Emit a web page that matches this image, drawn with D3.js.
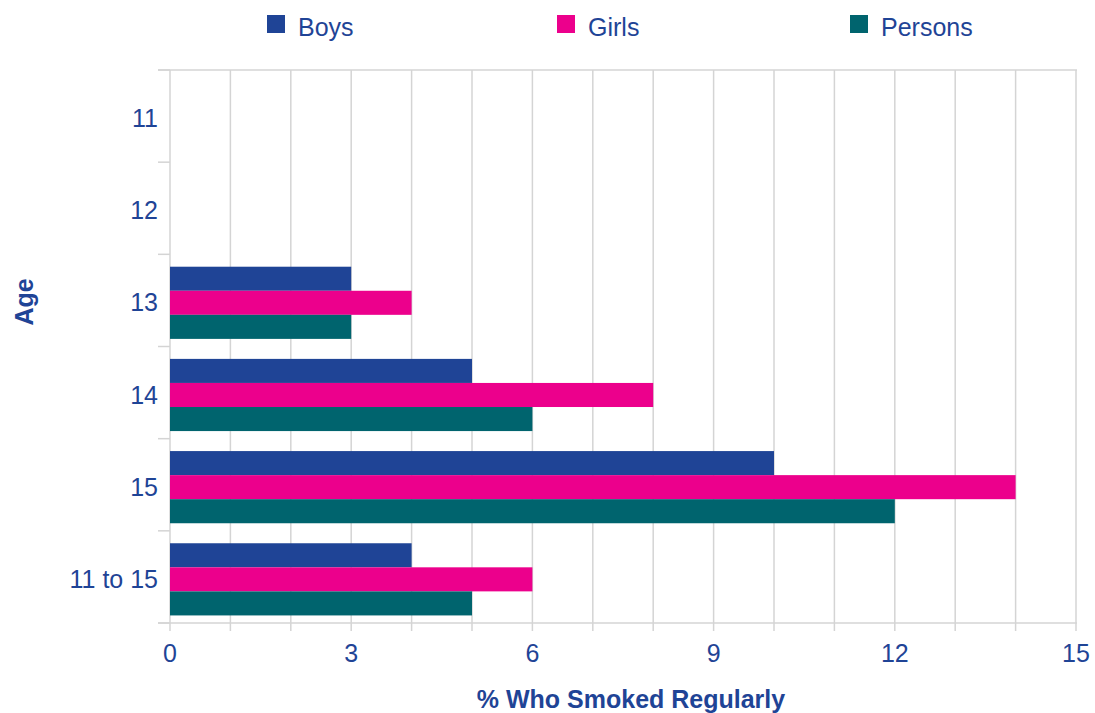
<!DOCTYPE html>
<html><head><meta charset="utf-8">
<script src="https://cdn.jsdelivr.net/npm/d3@7"></script>
<style>body{margin:0;background:#fff}svg{display:block;font-family:"Liberation Sans",Arial,sans-serif}</style>
</head><body><svg id="c" width="1095" height="713"></svg>
<script>
const categories = ["11","12","13","14","15","11 to 15"];
const seriesNames = ["Boys","Girls","Persons"];
const boys = [0,0,3,5,10,4];
const girls = [0,0,4,8,14,6];
const persons = [0,0,3,6,12,5];
const xTicks = [0,3,6,9,12,15];
const colors = ["#1F4496","#EC008C","#00646E"];
const textColor = "#1F4496";

const svg = d3.select("#c");
const m = {l:170, r:1076, t:70, b:623};
const x = d3.scaleLinear().domain([0,15]).range([m.l,m.r]);
const y = d3.scaleBand().domain(categories).range([m.t,m.b]).paddingInner(0.217).paddingOuter(0.108).align(0.62);
const yb = d3.scaleBand().domain(categories).range([m.t,m.b]);
const ys = d3.scaleBand().domain(seriesNames).range([0,y.bandwidth()]);

const grid = d3.range(0,16);
svg.append("g").selectAll("line").data(grid).join("line")
  .attr("x1",d=>x(d)).attr("x2",d=>x(d)).attr("y1",m.t).attr("y2",m.b+8)
  .attr("stroke","#d4d4d4").attr("stroke-width",1.5);
svg.append("line").attr("x1",158).attr("x2",m.r+1).attr("y1",m.t).attr("y2",m.t).attr("stroke","#d4d4d4").attr("stroke-width",1.5);
svg.append("line").attr("x1",158).attr("x2",m.r+1).attr("y1",m.b).attr("y2",m.b).attr("stroke","#d4d4d4").attr("stroke-width",1.5);
const bounds = categories.map(c=>yb(c)).concat([m.b]);
svg.append("g").selectAll("line").data(bounds).join("line")
  .attr("x1",158).attr("x2",m.l).attr("y1",d=>d).attr("y2",d=>d)
  .attr("stroke","#d4d4d4").attr("stroke-width",1.5);

const data = [boys,girls,persons];
seriesNames.forEach((s,i)=>{
  svg.append("g").selectAll("rect").data(categories.map((c,j)=>({c,v:data[i][j]})).filter(d=>d.v>0))
    .join("rect")
    .attr("x",x(0)).attr("y",d=>y(d.c)+ys(s)).attr("height",ys.bandwidth())
    .attr("width",d=>x(d.v)-x(0)).attr("fill",colors[i]);
});

svg.append("g").selectAll("text").data(categories).join("text")
  .attr("x",158).attr("y",d=>yb(d)+yb.bandwidth()/2+11)
  .attr("text-anchor","end").attr("font-size",25).attr("fill",textColor).text(d=>d);
svg.append("g").selectAll("text").data(xTicks).join("text")
  .attr("x",d=>x(d)).attr("y",662).attr("text-anchor","middle")
  .attr("font-size",25).attr("fill",textColor).text(d=>d);

svg.append("text").attr("x",631).attr("y",708).attr("text-anchor","middle")
  .attr("font-size",25).attr("font-weight","bold").attr("fill",textColor).text("% Who Smoked Regularly");
svg.append("text").attr("transform","translate(33,302) rotate(-90)")
  .attr("text-anchor","middle").attr("font-size",25).attr("font-weight","bold").attr("fill",textColor).text("Age");

const legX = [267,557,850];
seriesNames.forEach((s,i)=>{
  svg.append("rect").attr("x",legX[i]).attr("y",15).attr("width",18).attr("height",18).attr("fill",colors[i]);
  svg.append("text").attr("x",legX[i]+31).attr("y",36).attr("font-size",25).attr("fill",textColor).text(s);
});
</script></body></html>
